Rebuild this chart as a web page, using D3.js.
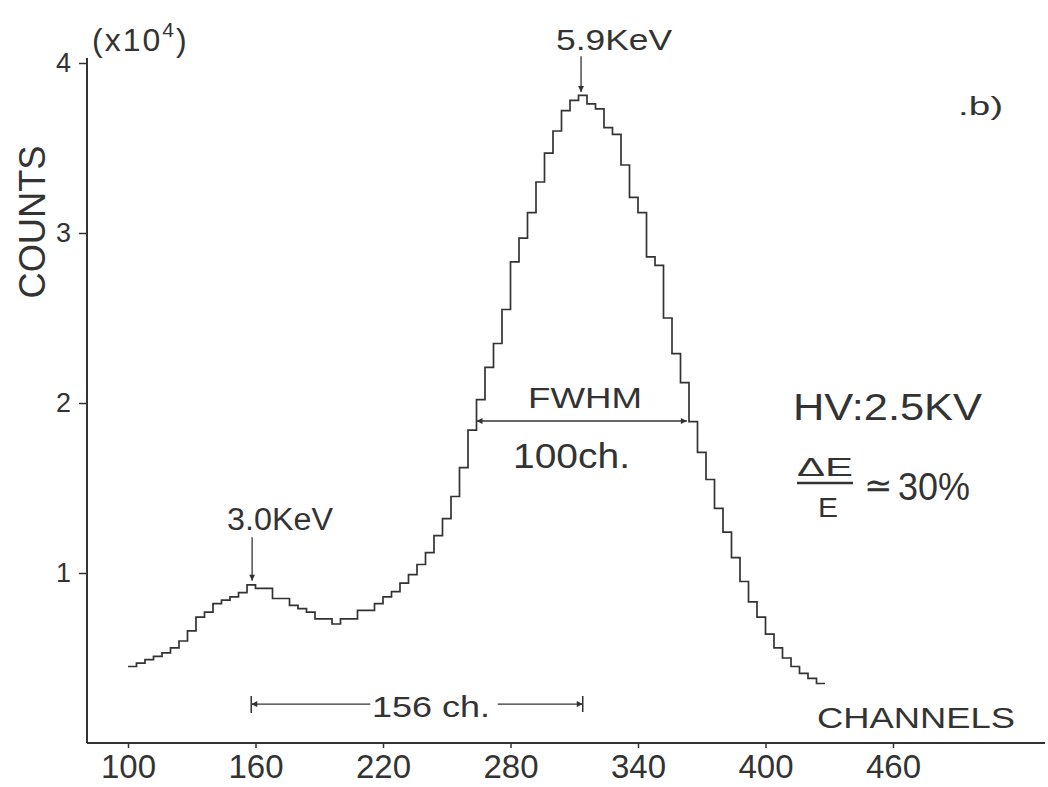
<!DOCTYPE html>
<html>
<head>
<meta charset="utf-8">
<script src="https://cdnjs.cloudflare.com/ajax/libs/d3/7.8.5/d3.min.js"></script>
<style>
  body { margin: 0; background: #fff; }
  svg text { font-family: "Liberation Sans", Arial, Helvetica, sans-serif; fill: #333; }
</style>
</head>
<body>
<svg width="1048" height="787"></svg>
<script>
// channel bins (start of each 4-channel bin) and counts in units of 10^4
const channels = [100, 104, 108, 112, 116, 120, 124, 128, 132, 136, 140, 144, 148, 152, 156, 160,
  164, 168, 172, 176, 180, 184, 188, 192, 196, 200, 204, 208, 212, 216, 220, 224, 228, 232, 236,
  240, 244, 248, 252, 256, 260, 264, 268, 272, 276, 280, 284, 288, 292, 296, 300, 304, 308, 312,
  316, 320, 324, 328, 332, 336, 340, 344, 348, 352, 356, 360, 364, 368, 372, 376, 380, 384, 388,
  392, 396, 400, 404, 408, 412, 416, 420, 424];
const counts = [0.45, 0.47, 0.49, 0.51, 0.53, 0.56, 0.60, 0.66, 0.74, 0.77, 0.82, 0.84, 0.86, 0.885, 0.93, 0.91,
  0.91, 0.85, 0.85, 0.81, 0.79, 0.77, 0.73, 0.73, 0.70, 0.73, 0.73, 0.78, 0.78, 0.82, 0.86, 0.89, 0.94, 0.99, 1.05,
  1.12, 1.22, 1.32, 1.45, 1.62, 1.84, 2.02, 2.21, 2.35, 2.55, 2.83, 2.97, 3.12, 3.30, 3.47, 3.60, 3.72, 3.78, 3.81,
  3.76, 3.73, 3.62, 3.58, 3.40, 3.21, 3.12, 2.86, 2.81, 2.50, 2.29, 2.12, 1.89, 1.71, 1.55, 1.38, 1.24, 1.09, 0.95,
  0.83, 0.74, 0.64, 0.56, 0.50, 0.45, 0.41, 0.38, 0.35];
const binWidth = 4;
const xTicks = [100, 160, 220, 280, 340, 400, 460];
const yTicks = [1, 2, 3, 4];

const svg = d3.select('svg');
const ink = '#333';

const x = d3.scaleLinear().domain([100, 460]).range([128, 893]);
const y = d3.scaleLinear().domain([0, 4]).range([743, 63]);

// arrow head
svg.append('defs').append('marker')
  .attr('id', 'arrow')
  .attr('viewBox', '0 0 10 10')
  .attr('refX', 10).attr('refY', 5)
  .attr('markerWidth', 8).attr('markerHeight', 6)
  .attr('markerUnits', 'userSpaceOnUse')
  .attr('orient', 'auto-start-reverse')
  .append('path').attr('d', 'M0,0L10,5L0,10z').attr('fill', ink);

// axes
const xAxis = svg.append('g')
  .attr('transform', `translate(0,${y(0)})`)
  .call(d3.axisBottom(x).tickValues(xTicks).tickSizeInner(5).tickSizeOuter(0).tickPadding(7));
xAxis.select('.domain').remove();
xAxis.selectAll('text').attr('font-size', 33).attr('fill', ink);
xAxis.selectAll('line').attr('stroke', ink).attr('stroke-width', 1.5);

const yAxis = svg.append('g')
  .attr('transform', 'translate(87,0)')
  .call(d3.axisLeft(y).tickValues(yTicks).tickFormat(d3.format('d'))
    .tickSizeInner(8).tickSizeOuter(0).tickPadding(8));
yAxis.select('.domain').remove();
yAxis.selectAll('text').attr('font-size', 27).attr('fill', ink);
yAxis.selectAll('line').attr('stroke', ink).attr('stroke-width', 1.5);

svg.append('line').attr('x1', 87).attr('x2', 1045).attr('y1', y(0)).attr('y2', y(0))
  .attr('stroke', ink).attr('stroke-width', 2);
svg.append('line').attr('x1', 87).attr('x2', 87).attr('y1', y(0)).attr('y2', y(4) - 5)
  .attr('stroke', ink).attr('stroke-width', 2);

// histogram as a step line
const bins = channels.map((c, i) => ({ ch: c, v: counts[i] }));
bins.push({ ch: channels[channels.length - 1] + binWidth, v: counts[counts.length - 1] });
svg.append('path')
  .datum(bins)
  .attr('fill', 'none')
  .attr('stroke', ink)
  .attr('stroke-width', 1.7)
  .attr('d', d3.line().x(d => x(d.ch)).y(d => y(d.v)).curve(d3.curveStepAfter));

// axis titles
svg.append('text').attr('transform', 'translate(45,222) rotate(-90)')
  .attr('text-anchor', 'middle').attr('font-size', 36)
  .attr('textLength', 153).attr('lengthAdjust', 'spacingAndGlyphs').text('COUNTS');
svg.append('text').attr('x', 817).attr('y', 728).attr('font-size', 29)
  .attr('textLength', 198).attr('lengthAdjust', 'spacingAndGlyphs').text('CHANNELS');

const unit = svg.append('text').attr('x', 92).attr('y', 51).attr('font-size', 32).attr('letter-spacing', 2);
unit.append('tspan').text('(x10');
unit.append('tspan').attr('font-size', 21).attr('dy', -14).text('4');
unit.append('tspan').attr('dy', 14).text(')');

// annotations
function label(txt, px, py, size, len) {
  const t = svg.append('text').attr('x', px).attr('y', py).attr('font-size', size).text(txt);
  if (len) t.attr('textLength', len).attr('lengthAdjust', 'spacingAndGlyphs');
  return t;
}
function arrow(x1, y1, x2, y2, both) {
  const l = svg.append('line').attr('x1', x1).attr('y1', y1).attr('x2', x2).attr('y2', y2)
    .attr('stroke', ink).attr('stroke-width', 1.3).attr('marker-end', 'url(#arrow)');
  if (both) l.attr('marker-start', 'url(#arrow)');
}

// 5.9 KeV peak
arrow(x(313.2), y(4.04), x(313.2), y(3.83));
label('5.9KeV', 556, 50, 30, 116);

// 3.0 KeV escape peak
arrow(x(158.4), y(1.21), x(158.4), y(0.955));
label('3.0KeV', 227, 530, 31, 106);

// FWHM
arrow(x(264), y(1.894), x(363), y(1.894), true);
label('FWHM', 528, 408, 29, 114);
label('100ch.', 513, 468, 35, 117);

// 156 ch. separation
const sepY = y(0.229);
arrow(x(214), sepY, x(158), sepY);
arrow(x(274), sepY, x(314), sepY);
svg.append('line').attr('x1', x(158)).attr('x2', x(158)).attr('y1', sepY - 8).attr('y2', sepY + 9)
  .attr('stroke', ink).attr('stroke-width', 1.5);
svg.append('line').attr('x1', x(314)).attr('x2', x(314)).attr('y1', sepY - 8).attr('y2', sepY + 8)
  .attr('stroke', ink).attr('stroke-width', 1.5);
label('156 ch.', 372, 717, 30, 118);

// panel label and conditions
label('.b)', 958, 115, 26, 45);
label('HV:2.5KV', 793, 420, 36, 189);
label('ΔE', 797, 476, 26, 56);
svg.append('line').attr('x1', 797).attr('x2', 853).attr('y1', 483).attr('y2', 483)
  .attr('stroke', ink).attr('stroke-width', 2.5);
label('E', 818, 517, 28, 20);
label('≃', 864, 497, 34, 28);
label('30%', 898, 500, 38, 72);
</script>
</body>
</html>
